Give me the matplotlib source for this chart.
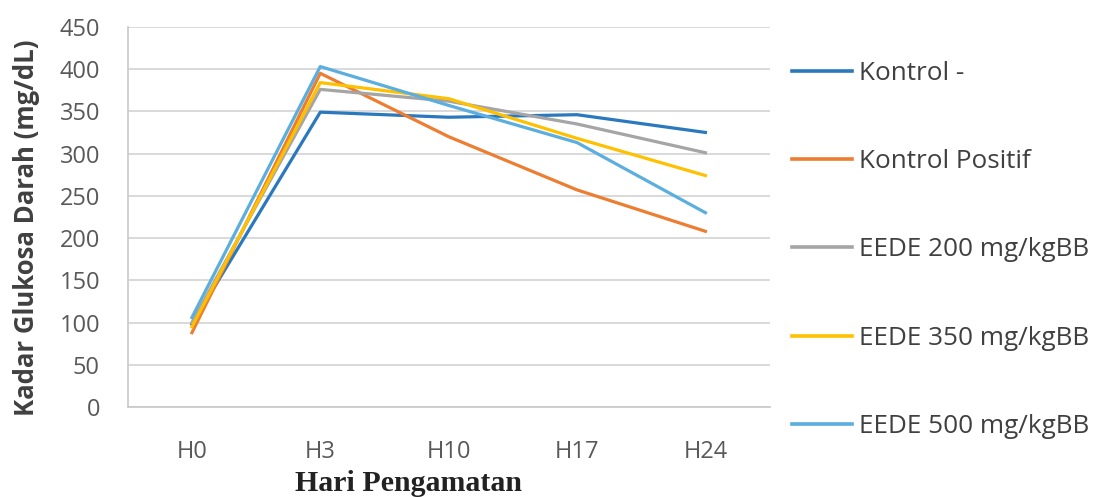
import matplotlib.pyplot as plt
import numpy as np

# Data
days = ['H0', 'H3', 'H10', 'H17', 'H24']
kontrol_neg = [98, 349, 343, 346, 325]
kontrol_pos = [88, 395, 320, 257, 208]
eede_200 = [100, 376, 362, 335, 301]
eede_350 = [95, 384, 365, 318, 274]
eede_500 = [106, 403, 357, 313, 230]

labels = ['Kontrol -', 'Kontrol Positif', 'EEDE 200 mg/kgBB',
          'EEDE 350 mg/kgBB', 'EEDE 500 mg/kgBB']
colors = ['#2A78BE', '#ED7D31', '#A5A5A5', '#FFC000', '#5BAEDD']

x = np.arange(len(days))

fig = plt.figure(figsize=(11.01, 4.97), dpi=100)
ax = fig.add_axes([0.116, 0.181, 0.583, 0.765])

for series, lab, col in zip([kontrol_neg, kontrol_pos, eede_200, eede_350, eede_500], labels, colors):
    ax.plot(x, series, color=col, linewidth=2.3, label=lab)

ax.set_xlim(-0.5, 4.5)
ax.set_ylim(0, 450)
ax.set_yticks(np.arange(0, 451, 50))
ax.set_xticks(x, days)
ax.grid(axis='y', color='#D9D9D9', linewidth=1.4)
ax.set_axisbelow(True)

for s in ['top', 'right']:
    ax.spines[s].set_visible(False)
for s in ['left', 'bottom']:
    ax.spines[s].set_color('#C8C8C8')
    ax.spines[s].set_linewidth(1.2)

ax.tick_params(axis='both', length=0, labelsize=17, labelcolor='#595959')
ax.tick_params(axis='y', pad=20)
ax.tick_params(axis='x', pad=24)
for t in ax.get_xticklabels() + ax.get_yticklabels():
    t.set_family('Open Sans')

fig.text(0.0245, 0.541, 'Kadar Glukosa Darah (mg/dL)', fontsize=18.5, fontweight='bold',
         color='#404040', family='Open Sans', rotation=90, ha='center', va='center')
fig.text(0.371, 0.028, 'Hari Pengamatan', fontsize=21.5, fontweight='bold',
         family='Liberation Serif', ha='center', va='center', color='#222222')

leg = fig.legend(loc='center left', bbox_to_anchor=(0.7193, 0.497), frameon=False,
                 handlelength=2.3, handletextpad=0.25, labelspacing=2.42,
                 prop={'family': 'Open Sans', 'size': 18.8}, borderpad=0, borderaxespad=0)
for t in leg.get_texts():
    t.set_color('#404040')
for h in leg.get_lines():
    h.set_linewidth(2.6)

fig.savefig('out.png', dpi=100)
